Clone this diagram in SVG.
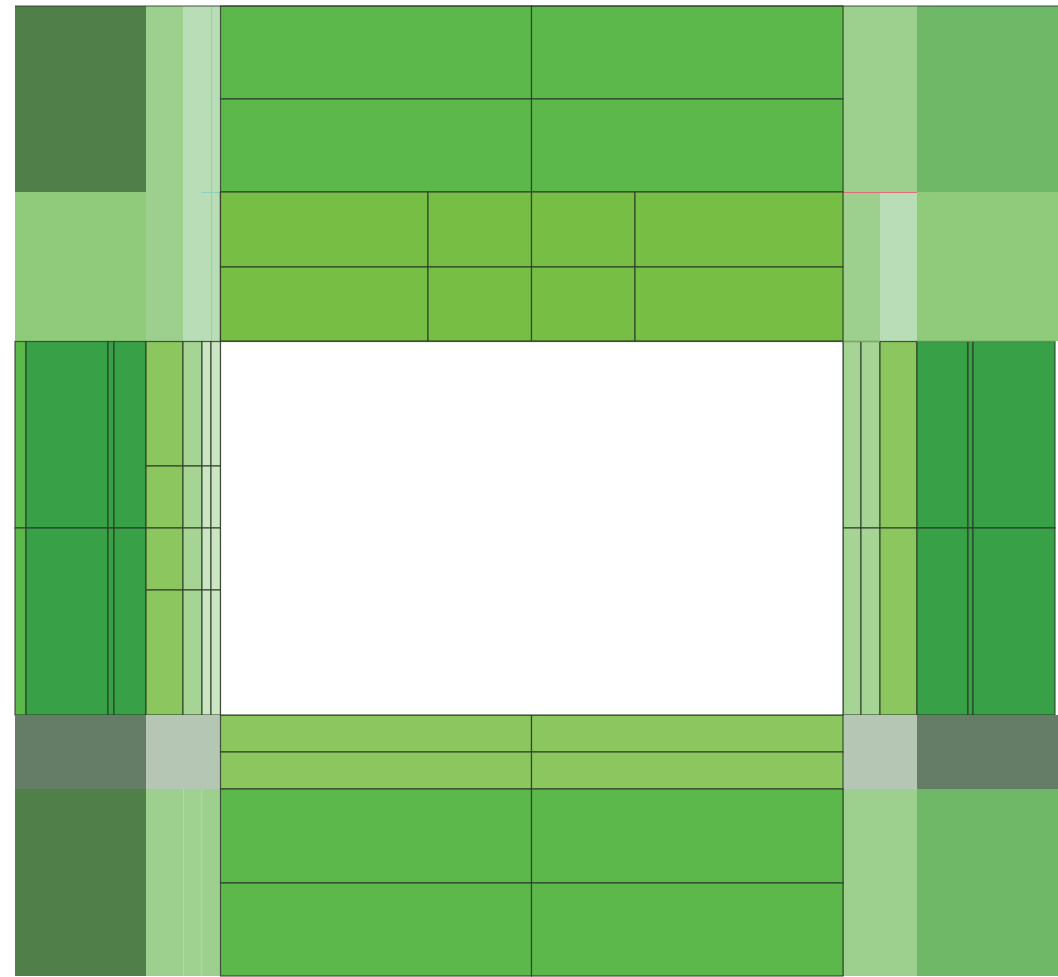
<svg xmlns="http://www.w3.org/2000/svg" width="1058" height="977" viewBox="0 0 1058 977">
<style>
.ln{fill:none;stroke:#2a3a28;stroke-width:1.2;stroke-opacity:0.85}
.bx{stroke:#2a3a28;stroke-width:1.2;stroke-opacity:0.85}
.nb{stroke:none}
</style>
<rect width="1058" height="977" fill="#ffffff"/>
<g id="corner-top-left">
<rect class="nb" x="15" y="6" width="131" height="186" fill="#517f4a"/>
<rect class="nb" x="15" y="192" width="131" height="149" fill="#8fcb7a"/>
<rect class="nb" x="146" y="6" width="37" height="335" fill="#9dd08e"/>
<rect class="nb" x="183" y="6" width="37" height="335" fill="#b9ddb6"/>
<line x1="211.5" y1="6" x2="211.5" y2="341" stroke="#8fd0b8" stroke-width="1"/>
<line x1="202" y1="192.5" x2="220" y2="192.5" stroke="#8fd0b8" stroke-width="1"/>
<line x1="220.5" y1="192" x2="220.5" y2="341" stroke="#c0392b" stroke-width="1.5"/>
</g>
<g id="corner-top-right">
<rect class="nb" x="843" y="6" width="74" height="186" fill="#9dd08e"/>
<rect class="nb" x="917" y="6" width="141" height="186" fill="#6fb867"/>
<rect class="nb" x="843" y="192" width="37" height="149" fill="#9dd08e"/>
<rect class="nb" x="880" y="192" width="37" height="149" fill="#b9ddb6"/>
<rect class="nb" x="917" y="192" width="141" height="149" fill="#8fcb7a"/>
<line x1="843" y1="192.5" x2="917" y2="192.5" stroke="#e06c7c" stroke-width="1.2"/>
<line x1="843" y1="6" x2="843" y2="341" stroke="#e06c7c" stroke-width="1"/>
</g>
<g id="top-block">
<rect class="bx" x="220.5" y="6" width="311" height="93" fill="#5cb84a"/>
<rect class="bx" x="531.5" y="6" width="311.5" height="93" fill="#5cb84a"/>
<rect class="bx" x="220.5" y="99" width="311" height="93" fill="#5cb84a"/>
<rect class="bx" x="531.5" y="99" width="311.5" height="93" fill="#5cb84a"/>
<rect class="bx" x="220.5" y="192" width="207.5" height="75" fill="#77be44"/>
<rect class="bx" x="428" y="192" width="103.5" height="75" fill="#77be44"/>
<rect class="bx" x="531.5" y="192" width="103.5" height="75" fill="#77be44"/>
<rect class="bx" x="635" y="192" width="208" height="75" fill="#77be44"/>
<rect class="bx" x="220.5" y="267" width="207.5" height="74" fill="#77be44"/>
<rect class="bx" x="428" y="267" width="103.5" height="74" fill="#77be44"/>
<rect class="bx" x="531.5" y="267" width="103.5" height="74" fill="#77be44"/>
<rect class="bx" x="635" y="267" width="208" height="74" fill="#77be44"/>
<line x1="15" y1="6" x2="1058" y2="6" class="ln" stroke-width="1.5"/>
</g>
<g id="left-middle">
<rect class="bx" x="15" y="341.5" width="11" height="186.5" fill="#5cb84a"/>
<rect class="bx" x="15" y="528" width="11" height="187" fill="#5cb84a"/>
<rect class="bx" x="26" y="341.5" width="82" height="186.5" fill="#38a047"/>
<rect class="bx" x="26" y="528" width="82" height="187" fill="#38a047"/>
<rect class="bx" x="108" y="341.5" width="6" height="186.5" fill="#38a047"/>
<rect class="bx" x="108" y="528" width="6" height="187" fill="#38a047"/>
<rect class="bx" x="114" y="341.5" width="32" height="186.5" fill="#38a047"/>
<rect class="bx" x="114" y="528" width="32" height="187" fill="#38a047"/>
<rect class="bx" x="146" y="341.5" width="37" height="124.5" fill="#8bc65e"/>
<rect class="bx" x="146" y="466" width="37" height="62" fill="#8bc65e"/>
<rect class="bx" x="146" y="528" width="37" height="62" fill="#8bc65e"/>
<rect class="bx" x="146" y="590" width="37" height="125" fill="#8bc65e"/>
<rect class="bx" x="183" y="341.5" width="19" height="124.5" fill="#a6d494"/>
<rect class="bx" x="183" y="466" width="19" height="62" fill="#a6d494"/>
<rect class="bx" x="183" y="528" width="19" height="62" fill="#a6d494"/>
<rect class="bx" x="183" y="590" width="19" height="125" fill="#a6d494"/>
<rect class="bx" x="202" y="341.5" width="9" height="124.5" fill="#cce6c4"/>
<rect class="bx" x="202" y="466" width="9" height="62" fill="#cce6c4"/>
<rect class="bx" x="202" y="528" width="9" height="62" fill="#cce6c4"/>
<rect class="bx" x="202" y="590" width="9" height="125" fill="#cce6c4"/>
<rect class="bx" x="211" y="341.5" width="9.5" height="124.5" fill="#cce6c4"/>
<rect class="bx" x="211" y="466" width="9.5" height="62" fill="#cce6c4"/>
<rect class="bx" x="211" y="528" width="9.5" height="62" fill="#cce6c4"/>
<rect class="bx" x="211" y="590" width="9.5" height="125" fill="#cce6c4"/>
</g>
<g id="right-middle">
<rect class="bx" x="843" y="341.5" width="18" height="186.5" fill="#a6d494"/>
<rect class="bx" x="843" y="528" width="18" height="187" fill="#a6d494"/>
<rect class="bx" x="861" y="341.5" width="19" height="186.5" fill="#a6d494"/>
<rect class="bx" x="861" y="528" width="19" height="187" fill="#a6d494"/>
<rect class="bx" x="880" y="341.5" width="37" height="186.5" fill="#8bc65e"/>
<rect class="bx" x="880" y="528" width="37" height="187" fill="#8bc65e"/>
<rect class="bx" x="917" y="341.5" width="51" height="186.5" fill="#38a047"/>
<rect class="bx" x="917" y="528" width="51" height="187" fill="#38a047"/>
<rect class="bx" x="968" y="341.5" width="5" height="186.5" fill="#38a047"/>
<rect class="bx" x="968" y="528" width="5" height="187" fill="#38a047"/>
<rect class="bx" x="973" y="341.5" width="82" height="186.5" fill="#38a047"/>
<rect class="bx" x="973" y="528" width="82" height="187" fill="#38a047"/>
<line x1="843" y1="341.5" x2="880" y2="341.5" stroke="#e06c7c" stroke-width="1"/>
<line x1="917" y1="341.5" x2="1055" y2="341.5" stroke="#c06070" stroke-width="1.2"/>
</g>
<g id="corner-bottom-left">
<rect class="nb" x="15" y="715" width="131" height="74" fill="#657c67"/>
<rect class="nb" x="146" y="715" width="74" height="74" fill="#b5c7b4"/>
<rect class="nb" x="15" y="789" width="131" height="187" fill="#517f4a"/>
<rect class="nb" x="146" y="789" width="37" height="187" fill="#9dd08e"/>
<rect class="nb" x="183" y="789" width="19" height="187" fill="#9fd190"/>
<rect class="nb" x="202" y="789" width="18" height="187" fill="#9dd08e"/>
<line x1="183.5" y1="789" x2="183.5" y2="976" stroke="#b4e0a6" stroke-width="0.8"/>
<line x1="202" y1="789" x2="202" y2="976" stroke="#b4e0a6" stroke-width="0.8"/>
</g>
<g id="corner-bottom-right">
<rect class="nb" x="843" y="715" width="74" height="74" fill="#b5c7b4"/>
<rect class="nb" x="917" y="715" width="141" height="74" fill="#657c67"/>
<rect class="nb" x="843" y="789" width="74" height="187" fill="#9dd08e"/>
<rect class="nb" x="917" y="789" width="141" height="187" fill="#6fb867"/>
<line x1="843" y1="789" x2="843" y2="976" stroke="#3a5a8a" stroke-width="1"/>
</g>
<g id="bottom-block">
<rect class="bx" x="220.5" y="715" width="311" height="37" fill="#8bc65e"/>
<rect class="bx" x="531.5" y="715" width="311.5" height="37" fill="#8bc65e"/>
<rect class="bx" x="220.5" y="752" width="311" height="37" fill="#8bc65e"/>
<rect class="bx" x="531.5" y="752" width="311.5" height="37" fill="#8bc65e"/>
<rect class="bx" x="220.5" y="789" width="311" height="94" fill="#5cb84a"/>
<rect class="bx" x="531.5" y="789" width="311.5" height="94" fill="#5cb84a"/>
<rect class="bx" x="220.5" y="883" width="311" height="93" fill="#5cb84a"/>
<rect class="bx" x="531.5" y="883" width="311.5" height="93" fill="#5cb84a"/>
</g>
<g id="void">
<rect x="220.5" y="341.5" width="622.5" height="373.5" fill="#ffffff" stroke="#2a3a28" stroke-opacity="0.85" stroke-width="1.2"/>
</g>
<g id="connectors"></g>
</svg>
